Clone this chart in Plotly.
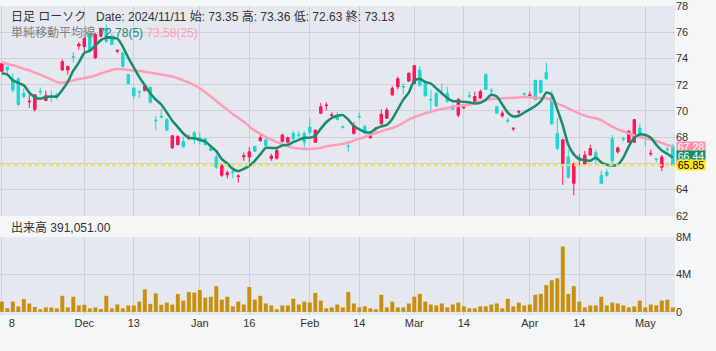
import plotly.graph_objects as go

# ---------------- data ----------------
opens = [73.02, 73.35, 72.38, 72.45, 71.35, 70.69, 70.12, 71.50, 70.79, 71.12,
         71.23, 73.12, 73.12, 74.15, 74.96, 74.91, 75.90, 74.05, 75.70, 76.30,
         75.52, 74.55, 74.42, 72.77, 71.72, 71.50, 71.55, 71.79, 69.30, 69.60,
         69.34, 67.18, 67.43, 67.67, 67.88, 68.33, 67.96, 67.87, 67.18, 66.49,
         65.09, 65.14, 65.36, 64.99, 66.50, 66.49, 67.30, 67.72, 67.79, 66.37,
         66.39, 67.67, 67.62, 68.28, 68.18, 68.28, 68.77, 67.60, 69.83, 70.40,
         69.66, 69.68, 68.79, 67.32, 68.28, 69.58, 68.82, 67.96, 68.62, 69.02,
         69.44, 71.23, 71.84, 71.87, 72.28, 72.09, 73.12, 72.09, 70.88, 71.35,
         71.37, 71.35, 70.19, 69.68, 70.23, 71.17, 70.61, 70.98, 72.77, 71.57,
         70.32, 69.63, 69.29, 68.63, 69.91, 71.32, 71.06, 72.33, 72.33, 72.94,
         71.06, 68.28, 66.00, 66.49, 64.48, 66.37, 65.95, 66.64, 66.81, 65.09,
         65.34, 67.87, 66.88, 67.89, 67.62, 67.62, 68.70, 67.98, 66.72, 66.34,
         65.71, 67.10, 67.30]
highs = [73.65, 73.36, 72.87, 72.58, 71.72, 71.28, 71.28, 71.79, 71.55, 71.55,
         71.40, 73.93, 73.42, 74.49, 75.23, 75.64, 76.00, 75.95, 76.35, 76.60,
         75.90, 74.68, 74.49, 72.82, 71.84, 71.53, 71.96, 71.89, 69.63, 70.17,
         69.44, 68.16, 68.16, 68.04, 68.20, 68.48, 68.33, 67.96, 67.42, 66.69,
         65.95, 65.46, 65.51, 65.17, 66.81, 67.23, 67.30, 68.16, 67.91, 66.74,
         67.13, 68.28, 68.04, 68.48, 68.45, 68.45, 69.43, 68.60, 70.61, 70.66,
         69.88, 69.93, 68.90, 67.72, 69.14, 69.88, 68.94, 68.28, 68.77, 70.12,
         70.25, 71.89, 72.62, 72.09, 72.94, 73.51, 73.44, 72.14, 71.60, 71.47,
         72.09, 71.84, 70.49, 70.98, 70.42, 71.47, 71.47, 71.64, 72.87, 71.72,
         70.40, 70.00, 69.51, 68.77, 70.07, 71.40, 71.47, 72.38, 72.38, 73.68,
         71.55, 69.44, 67.87, 67.05, 66.07, 66.69, 66.94, 67.42, 67.05, 65.46,
         65.58, 68.16, 67.30, 68.04, 68.53, 69.39, 69.02, 68.28, 67.05, 66.44,
         66.64, 67.25, 67.50]
lows = [72.98, 72.63, 71.40, 70.37, 70.96, 70.25, 69.95, 71.23, 70.79, 70.66,
        70.86, 73.07, 72.77, 73.68, 74.66, 74.54, 74.45, 73.95, 75.60, 75.20,
        75.00, 74.39, 73.30, 72.00, 70.90, 71.00, 71.50, 70.56, 68.53, 69.48,
        68.46, 67.10, 67.38, 67.23, 67.80, 67.47, 67.42, 67.35, 66.93, 65.58,
        64.97, 64.85, 64.85, 64.53, 66.20, 66.07, 66.88, 67.67, 67.30, 66.20,
        66.27, 67.60, 67.55, 67.62, 67.91, 67.20, 68.16, 67.55, 69.75, 70.07,
        69.44, 69.27, 68.65, 66.88, 68.21, 69.44, 68.21, 67.87, 68.45, 68.94,
        69.39, 71.16, 71.64, 71.30, 72.21, 72.04, 71.84, 71.10, 70.07, 70.32,
        71.20, 70.61, 70.05, 69.51, 70.15, 70.98, 70.56, 70.91, 71.60, 71.23,
        69.80, 69.51, 69.07, 68.45, 69.75, 71.10, 70.98, 70.81, 71.35, 72.33,
        68.94, 66.98, 64.36, 64.85, 63.57, 65.83, 65.90, 66.57, 65.95, 64.43,
        64.97, 65.95, 66.74, 67.67, 67.55, 67.55, 67.91, 67.30, 66.57, 66.07,
        65.41, 66.90, 65.83]
closes = [73.61, 73.13, 71.60, 70.49, 71.10, 70.74, 71.23, 71.45, 71.15, 71.08,
          71.10, 73.75, 73.40, 74.10, 75.10, 75.52, 74.55, 75.85, 76.20, 75.30,
          75.08, 74.62, 73.39, 72.09, 71.15, 71.45, 71.89, 70.66, 69.25, 69.52,
          68.53, 68.11, 68.04, 67.25, 67.96, 67.87, 67.72, 67.42, 66.98, 65.71,
          65.83, 65.29, 65.32, 65.04, 66.58, 66.88, 66.93, 67.96, 67.35, 66.56,
          66.98, 68.16, 67.96, 67.87, 68.14, 67.62, 68.36, 68.53, 70.32, 70.44,
          69.70, 69.34, 68.75, 67.28, 68.90, 69.54, 68.40, 68.20, 68.67, 69.75,
          70.07, 71.72, 72.45, 71.82, 72.87, 73.44, 71.96, 71.15, 70.84, 70.37,
          71.33, 70.74, 70.15, 70.86, 70.27, 71.13, 71.10, 71.47, 71.64, 71.53,
          69.83, 69.83, 69.25, 68.67, 69.95, 71.28, 71.23, 70.86, 71.40, 72.45,
          69.02, 67.13, 67.79, 64.92, 65.95, 66.41, 66.64, 67.13, 66.32, 64.48,
          65.09, 66.20, 67.18, 67.85, 68.45, 69.34, 68.21, 67.94, 66.76, 66.30,
          66.49, 67.05, 65.85]
volume_m = [1.10, 0.39, 1.10, 0.59, 1.38, 0.90, 0.52, 0.28, 0.48, 0.48,
            0.38, 1.72, 0.48, 1.62, 0.69, 0.76, 0.38, 0.48, 0.31, 1.72,
            0.38, 0.79, 0.38, 0.69, 0.69, 1.10, 2.41, 0.86, 1.97, 0.76,
            1.00, 0.78, 1.90, 1.21, 2.14, 2.07, 2.34, 1.52, 1.62, 2.76,
            1.31, 1.62, 0.59, 1.10, 0.79, 2.66, 1.31, 1.72, 0.90, 0.69,
            0.28, 0.69, 0.69, 1.41, 0.79, 1.10, 1.00, 2.03, 1.21, 0.38,
            0.48, 0.79, 0.48, 2.14, 0.90, 0.48, 0.59, 0.38, 0.28, 1.83,
            0.48, 1.10, 0.48, 0.48, 0.90, 1.62, 1.93, 1.10, 0.79, 0.69,
            0.90, 0.48, 0.79, 1.00, 0.59, 0.38, 0.38, 0.59, 0.59, 0.79,
            0.90, 0.38, 1.40, 0.59, 1.00, 0.69, 0.79, 1.83, 1.93, 2.86,
            3.38, 3.59, 7.00, 1.93, 2.76, 1.10, 0.48, 0.69, 0.69, 1.62,
            0.69, 1.00, 0.90, 0.69, 0.48, 0.59, 1.21, 0.48, 0.79, 0.69,
            1.21, 1.31, 0.48]
ma5 = [72.87, 72.78, 72.33, 72.13, 71.96, 71.40, 71.06, 70.93, 71.06, 71.10,
       71.10, 71.60, 72.21, 73.07, 73.68, 74.42, 74.59, 74.98, 75.40, 75.57,
       75.57, 75.52, 74.91, 74.05, 73.31, 72.58, 71.96, 71.35, 70.86, 70.49,
       69.88, 69.26, 68.77, 68.28, 67.96, 67.91, 67.79, 67.67, 67.30, 66.93,
       66.32, 66.00, 65.58, 65.41, 65.58, 65.83, 66.20, 66.69, 67.18, 67.18,
       67.18, 67.37, 67.42, 67.62, 67.79, 67.96, 67.96, 68.11, 68.65, 69.14,
       69.46, 69.63, 69.68, 69.34, 68.85, 68.60, 68.40, 68.36, 68.65, 68.82,
       68.94, 69.39, 70.12, 70.86, 71.40, 72.33, 72.45, 72.21, 72.09, 71.72,
       71.35, 70.98, 70.74, 70.74, 70.69, 70.66, 70.56, 70.61, 70.86, 71.23,
       71.10, 70.49, 69.88, 69.58, 69.63, 69.88, 70.12, 70.37, 70.74, 71.40,
       71.23, 70.12, 68.90, 67.42, 66.69, 66.32, 66.25, 66.20, 66.44, 66.07,
       65.90, 65.83, 65.90, 66.44, 67.30, 67.96, 68.21, 68.16, 67.96, 67.42,
       66.98, 66.74, 66.44]
ma25 = [73.71, 73.58, 73.48, 73.36, 73.21, 73.09, 72.92, 72.77, 72.58, 72.40,
        72.21, 72.16, 72.23, 72.33, 72.43, 72.50, 72.58, 72.70, 72.85, 72.99,
        73.12, 73.19, 73.17, 73.12, 73.07, 73.04, 72.99, 72.92, 72.85, 72.77,
        72.70, 72.63, 72.48, 72.33, 72.16, 71.96, 71.72, 71.42, 71.10, 70.76,
        70.42, 70.12, 69.75, 69.48, 69.17, 68.82, 68.50, 68.26, 68.01, 67.82,
        67.62, 67.45, 67.30, 67.20, 67.13, 67.10, 67.10, 67.13, 67.18, 67.30,
        67.37, 67.42, 67.50, 67.57, 67.74, 67.89, 68.01, 68.18, 68.31, 68.45,
        68.58, 68.70, 68.87, 69.09, 69.34, 69.53, 69.68, 69.83, 69.93, 70.05,
        70.15, 70.22, 70.32, 70.37, 70.43, 70.47, 70.59, 70.74, 70.83, 70.91,
        70.93, 70.96, 70.98, 71.00, 71.03, 71.06, 71.06, 71.00, 70.98, 70.96,
        70.81, 70.56, 70.39, 70.20, 69.98, 69.80, 69.63, 69.53, 69.44, 69.29,
        69.04, 68.80, 68.60, 68.45, 68.28, 68.13, 68.01, 67.91, 67.82, 67.72,
        67.57, 67.40, 67.28]

# x grid positions (bar index) and tick labels
grid_index = [0, 15, 24, 36, 45, 56, 65, 75, 84, 96, 105, 117]
label_index = [1.8, 15, 24, 36, 45, 56, 65, 75, 84, 96, 105, 117]
tick_labels = ["8", "Dec", "13", "Jan", "16", "Feb", "14",
               "Mar", "14", "Apr", "14", "May"]
price_ticks = [62, 64, 66, 68, 70, 72, 74, 76, 78]
vol_ticks = [0, 4, 8]
vol_tick_labels = ["0", "4M", "8M"]

header_date = "Date: 2024/11/11 始: 73.35 高: 73.36 低: 72.63 終: 73.13"
ma_values_text = ("72.78(5)", "73.58(25)")
volume_text = "出来高 391,051.00"
last_price = 65.85

# ---------------- styles ----------------
UP = "#ff1456"
DOWN = "#1fd6d6"
MA5_C = "#178c6c"
MA25_C = "#ff9db6"
VOL_C = "#c8900c"
GRID = "#cdd0db"
PLOT_BG = "#e6e8f0"
PAPER_BG = "#f5f6f8"
TXT = "#333333"
FONT = "Liberation Sans, Arial, Noto Sans CJK JP, sans-serif"

W, H = 716, 351
x = list(range(len(closes)))
xr = [-0.33, 122.4]
x_right = 675 / W

fig = go.Figure()
fig.add_trace(go.Candlestick(
    x=x, open=opens, high=highs, low=lows, close=closes,
    increasing=dict(line=dict(color=UP, width=1), fillcolor=UP),
    decreasing=dict(line=dict(color=DOWN, width=1), fillcolor=DOWN),
    whiskerwidth=0, hoverinfo="skip", xaxis="x", yaxis="y"))
fig.add_trace(go.Scatter(x=x, y=ma25, mode="lines",
                         line=dict(color=MA25_C, width=2.5, shape="spline", smoothing=0.6),
                         hoverinfo="skip", xaxis="x", yaxis="y"))
fig.add_trace(go.Scatter(x=x, y=ma5, mode="lines",
                         line=dict(color=MA5_C, width=2.5, shape="spline", smoothing=0.6),
                         hoverinfo="skip", xaxis="x", yaxis="y"))
fig.add_trace(go.Bar(x=x, y=volume_m, marker=dict(color=VOL_C, line=dict(width=0)),
                     width=0.72, hoverinfo="skip", xaxis="x2", yaxis="y2"))

axis_font = dict(family=FONT, size=11, color=TXT)
xgrid = dict(tickmode="array", tickvals=grid_index, showgrid=True, gridcolor=GRID,
             gridwidth=1, ticks="")
fig.update_layout(
    width=W, height=H, margin=dict(l=0, r=0, t=0, b=0),
    paper_bgcolor=PAPER_BG, plot_bgcolor=PLOT_BG, showlegend=False,
    boxgap=0.35,
    xaxis=dict(domain=[0, x_right], range=xr, tickmode="array", tickvals=label_index,
               showticklabels=False, showgrid=False, minor=xgrid,
               zeroline=False, showline=False, ticks="", anchor="y",
               rangeslider=dict(visible=False)),
    yaxis=dict(domain=[1 - 217.3 / H, 1], range=[62, 78], side="right",
               tickmode="array", tickvals=price_ticks, showgrid=True, gridcolor=GRID,
               zeroline=False, showline=False, ticks="", tickfont=axis_font, anchor="x",
               ticklabeloverflow="allow"),
    xaxis2=dict(domain=[0, x_right], range=xr, matches="x", tickmode="array",
                tickvals=label_index, ticktext=tick_labels, showgrid=False, minor=xgrid,
                zeroline=False, showline=False, ticks="", tickfont=axis_font, anchor="y2"),
    yaxis2=dict(domain=[1 - 320 / H, 1 - 239.3 / H], range=[-0.34, 8], side="right",
                tickmode="array", tickvals=vol_ticks, ticktext=vol_tick_labels,
                showgrid=True, gridcolor=GRID, zeroline=False, showline=False, ticks="",
                tickfont=axis_font, anchor="x2"),
)

fig.add_shape(type="line", xref="paper", yref="y", x0=0, x1=x_right,
              y0=last_price, y1=last_price,
              line=dict(color="#f2e23c", width=2, dash="4px,3px"))

hdr_font = dict(family=FONT, size=12, color=TXT)
fig.add_annotation(xref="paper", yref="paper", x=9 / W, y=1 - 11 / H, xanchor="left",
                   yanchor="middle", text="日足 ローソク", showarrow=False, font=hdr_font)
fig.add_annotation(xref="paper", yref="paper", x=94 / W, y=1 - 11 / H, xanchor="left",
                   yanchor="middle", text=header_date, showarrow=False, font=hdr_font)
fig.add_annotation(
    xref="paper", yref="paper", x=9 / W, y=1 - 27.5 / H, xanchor="left", yanchor="middle",
    text=("<span style='color:#808080'>単純移動平均線</span> "
          f"<span style='color:{MA5_C}'>{ma_values_text[0]}</span> "
          f"<span style='color:{MA25_C}'>{ma_values_text[1]}</span>"),
    showarrow=False, font=hdr_font)
fig.add_annotation(xref="paper", yref="paper", x=9 / W, y=1 - 229.5 / H, xanchor="left",
                   yanchor="middle", text=volume_text, showarrow=False, font=hdr_font)

# price labels on the right axis
for val, bg, fg, yy in [(ma25[-1], "#ff8fab", "white", ma25[-1]),
                        (ma5[-1], MA5_C, "white", ma5[-1] + 0.1),
                        (last_price, "#ffe81a", "black", last_price)]:
    fig.add_annotation(xref="paper", yref="y", x=676 / W, y=yy, xanchor="left",
                       yanchor="middle", text=f"{val:.2f}", showarrow=False,
                       bgcolor=bg, width=28, height=10, borderpad=0,
                       font=dict(family=FONT, size=10.5, color=fg))

fig.write_html("out.html")
